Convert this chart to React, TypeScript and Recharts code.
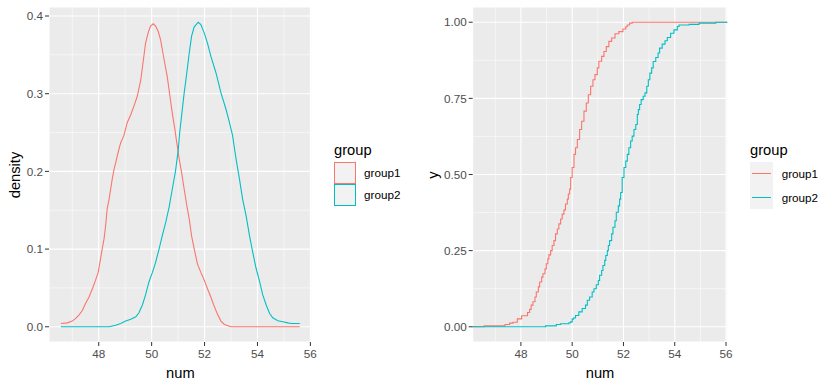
import { CartesianGrid, Line, LineChart, XAxis, YAxis } from "recharts";

const FONT = '"Liberation Sans", Arial, sans-serif';
const RED = "#F8766D";
const TEAL = "#00BFC4";

const groups = ["group1", "group2"];
const xTicks = [48, 50, 52, 54, 56];
const xMinor = [47, 49, 51, 53, 55];

// density curves
const dens1X = [46.57, 46.81, 47.0, 47.13, 47.25, 47.38, 47.5, 47.63, 47.76, 47.88, 47.98, 48.07, 48.13, 48.2, 48.26, 48.32, 48.39, 48.45, 48.51, 48.58, 48.64, 48.73, 48.83, 48.95, 49.08, 49.21, 49.33, 49.46, 49.59, 49.69, 49.77, 49.88, 49.96, 50.06, 50.15, 50.25, 50.34, 50.47, 50.59, 50.69, 50.78, 50.87, 50.95, 51.04, 51.13, 51.23, 51.33, 51.42, 51.51, 51.61, 51.73, 51.86, 51.99, 52.11, 52.24, 52.37, 52.49, 52.62, 52.75, 53.0, 55.6];
const dens1Y = [0.0043, 0.005, 0.0073, 0.0107, 0.015, 0.021, 0.03, 0.038, 0.049, 0.06, 0.07, 0.088, 0.1, 0.113, 0.13, 0.152, 0.164, 0.177, 0.19, 0.203, 0.211, 0.224, 0.237, 0.246, 0.263, 0.273, 0.284, 0.297, 0.318, 0.344, 0.365, 0.38, 0.387, 0.39, 0.387, 0.38, 0.369, 0.344, 0.322, 0.297, 0.275, 0.256, 0.237, 0.216, 0.199, 0.177, 0.156, 0.139, 0.117, 0.1, 0.081, 0.07, 0.06, 0.049, 0.038, 0.026, 0.016, 0.0073, 0.003, 0, 0];
const dens2X = [46.57, 48.39, 48.64, 48.83, 49.02, 49.21, 49.4, 49.52, 49.65, 49.77, 49.9, 50.03, 50.15, 50.28, 50.4, 50.53, 50.66, 50.78, 50.9, 51.0, 51.06, 51.13, 51.23, 51.33, 51.42, 51.51, 51.61, 51.76, 51.86, 51.99, 52.11, 52.24, 52.43, 52.62, 52.81, 52.94, 53.06, 53.19, 53.32, 53.44, 53.57, 53.7, 53.82, 53.95, 54.08, 54.2, 54.33, 54.46, 54.58, 54.77, 54.96, 55.15, 55.28, 55.6];
const dens2Y = [0, 0, 0.002, 0.0043, 0.0073, 0.0098, 0.0128, 0.018, 0.028, 0.041, 0.058, 0.07, 0.083, 0.1, 0.117, 0.134, 0.154, 0.177, 0.2, 0.226, 0.25, 0.271, 0.301, 0.327, 0.352, 0.374, 0.386, 0.392, 0.389, 0.378, 0.365, 0.348, 0.327, 0.301, 0.28, 0.263, 0.246, 0.216, 0.19, 0.164, 0.143, 0.117, 0.096, 0.075, 0.058, 0.041, 0.028, 0.017, 0.0115, 0.0077, 0.0064, 0.005, 0.0043, 0.0043];

// ecdf steps (first/last points pad to the panel edges)
const ecdf1X = [46.0, 46.57, 47.38, 47.56, 47.69, 47.86, 48.03, 48.26, 48.34, 48.4, 48.47, 48.55, 48.6, 48.68, 48.73, 48.81, 48.86, 48.94, 48.99, 49.05, 49.09, 49.16, 49.22, 49.29, 49.35, 49.42, 49.48, 49.55, 49.61, 49.68, 49.74, 49.81, 49.85, 49.9, 49.94, 50.0, 50.07, 50.13, 50.2, 50.29, 50.37, 50.46, 50.55, 50.63, 50.72, 50.81, 50.89, 50.98, 51.04, 51.15, 51.24, 51.33, 51.43, 51.54, 51.67, 51.82, 51.98, 52.09, 52.15, 52.24, 52.34, 55.6, 56.2];
const ecdf1Y = [0, 0.003, 0.0075, 0.012, 0.015, 0.026, 0.036, 0.047, 0.057, 0.071, 0.082, 0.098, 0.114, 0.131, 0.147, 0.163, 0.174, 0.19, 0.207, 0.223, 0.236, 0.25, 0.267, 0.283, 0.305, 0.321, 0.338, 0.354, 0.37, 0.384, 0.403, 0.419, 0.436, 0.452, 0.49, 0.523, 0.566, 0.588, 0.615, 0.648, 0.675, 0.708, 0.735, 0.762, 0.79, 0.811, 0.828, 0.85, 0.872, 0.888, 0.904, 0.92, 0.937, 0.948, 0.962, 0.969, 0.978, 0.985, 0.991, 0.997, 1, 1, 1];
const ecdf2X = [46.0, 48.96, 49.38, 49.55, 49.87, 49.94, 50.0, 50.05, 50.13, 50.26, 50.39, 50.52, 50.59, 50.68, 50.78, 50.85, 50.94, 51.02, 51.07, 51.15, 51.2, 51.27, 51.31, 51.37, 51.41, 51.46, 51.54, 51.59, 51.67, 51.72, 51.8, 51.85, 51.89, 51.95, 52.02, 52.09, 52.15, 52.21, 52.28, 52.34, 52.41, 52.48, 52.54, 52.58, 52.63, 52.69, 52.77, 52.84, 52.91, 52.97, 53.03, 53.1, 53.16, 53.26, 53.35, 53.41, 53.51, 53.62, 53.71, 53.84, 53.97, 54.1, 54.17, 54.56, 54.95, 55.6, 56.2];
const ecdf2Y = [0, 0.003, 0.0075, 0.01, 0.013, 0.016, 0.025, 0.029, 0.037, 0.049, 0.06, 0.071, 0.087, 0.098, 0.114, 0.125, 0.138, 0.152, 0.169, 0.185, 0.201, 0.218, 0.234, 0.25, 0.267, 0.283, 0.305, 0.327, 0.348, 0.376, 0.397, 0.419, 0.441, 0.49, 0.523, 0.544, 0.566, 0.588, 0.61, 0.626, 0.648, 0.664, 0.697, 0.713, 0.73, 0.746, 0.757, 0.768, 0.79, 0.811, 0.833, 0.85, 0.871, 0.884, 0.899, 0.915, 0.928, 0.939, 0.95, 0.964, 0.975, 0.986, 0.991, 0.993, 0.997, 1, 1];

const toPoints = (xs: number[], ys: number[]) => xs.map((x, i) => ({ x, y: ys[i] }));

const tickStyle = { fill: "#4D4D4D", fontSize: 11.7, fontFamily: FONT };
const titleStyle = { position: "absolute" as const, fontFamily: FONT, fontSize: 14.7, color: "#000", whiteSpace: "nowrap" as const, lineHeight: 1 };

type Series = { name: string; color: string; data: { x: number; y: number }[] };

type PanelProps = {
  left: number;
  yAxisWidth: number;
  marginRight: number;
  yDomain: [number, number];
  yTicks: number[];
  yMinor: number[];
  yDigits: number;
  yTitle: string;
  step: boolean;
  series: Series[];
};

// legend drawn with fixed boxes so nothing can shrink
function LegendBlock({ step, series, left }: { step: boolean; series: Series[]; left: number }) {
  const keyW = step ? 22.7 : 22;
  const keyH = step ? 23.3 : 22;
  const keysTop = 162.3;
  const abs = { position: "absolute" as const };
  return (
    <div style={{ ...abs, left, top: 0, width: 90, height: 389, fontFamily: FONT }}>
      <div style={{ ...abs, left: 0, top: 142.6, fontSize: 14.7, lineHeight: 1, whiteSpace: "nowrap" }}>group</div>
      {step && <div style={{ ...abs, left: 0, top: keysTop, width: keyW, height: keyH * series.length, background: "#F2F2F2" }} />}
      {series.map((s, i) => {
        const top = keysTop + i * keyH;
        return (
          <div key={s.name}>
            {step ? (
              <div style={{ ...abs, left: 2, top: top + keyH / 2 - 0.55, width: keyW - 4, height: 1.1, background: s.color }} />
            ) : (
              <div style={{ ...abs, left: 0, top, width: keyW, height: keyH, boxSizing: "border-box", border: `1.4px solid ${s.color}`, background: "#F2F2F2" }} />
            )}
            <div style={{ ...abs, left: keyW + (step ? 9 : 8), top, height: keyH, lineHeight: `${keyH}px`, fontSize: 11.7, color: "#000", whiteSpace: "nowrap" }}>{s.name}</div>
          </div>
        );
      })}
    </div>
  );
}

function Panel({ left, yAxisWidth, marginRight, yDomain, yTicks, yMinor, yDigits, yTitle, step, series }: PanelProps) {
  const width = 320;
  const plotLeft = yAxisWidth;
  const plotRight = width - marginRight;
  return (
    <div style={{ position: "absolute", left, top: 0, width: 413, height: 389 }}>
      <LineChart width={width} height={389} margin={{ top: 7, right: marginRight, bottom: 0, left: 0 }}>
        <CartesianGrid fill="#EBEBEB" stroke="#FFFFFF" strokeWidth={0.55} verticalValues={xMinor} horizontalValues={yMinor} />
        <CartesianGrid stroke="#FFFFFF" strokeWidth={1.1} />
        <XAxis
          type="number"
          dataKey="x"
          domain={[46.12, 56.05]}
          ticks={xTicks}
          interval={0}
          allowDataOverflow
          axisLine={false}
          tickLine={{ stroke: "#333333" }}
          tickSize={4}
          tickMargin={4}
          height={47}
          tick={tickStyle}
        />
        <YAxis
          type="number"
          domain={yDomain}
          ticks={yTicks}
          interval={0}
          allowDataOverflow
          axisLine={false}
          tickLine={{ stroke: "#333333" }}
          tickSize={4}
          tickMargin={2}
          width={yAxisWidth}
          tick={tickStyle}
          tickFormatter={(v: number) => v.toFixed(yDigits)}
        />
        {series.map((s) => (
          <Line
            key={s.name}
            data={s.data}
            dataKey="y"
            name={s.name}
            type={step ? "stepAfter" : "linear"}
            stroke={s.color}
            strokeWidth={1.1}
            dot={false}
            activeDot={false}
            isAnimationActive={false}
          />
        ))}
      </LineChart>
      <div style={{ ...titleStyle, left: (plotLeft + plotRight) / 2, top: 373, transform: "translate(-50%, -50%)" }}>num</div>
      <div style={{ ...titleStyle, left: step ? 13 : 15, top: 175, transform: "translate(-50%, -50%) rotate(-90deg)" }}>{yTitle}</div>
      <LegendBlock step={step} series={series} left={step ? 330 : 334} />
    </div>
  );
}

export default function App() {
  const densSeries: Series[] = [
    { name: groups[0], color: RED, data: toPoints(dens1X, dens1Y) },
    { name: groups[1], color: TEAL, data: toPoints(dens2X, dens2Y) },
  ];
  const ecdfSeries: Series[] = [
    { name: groups[0], color: RED, data: toPoints(ecdf1X, ecdf1Y) },
    { name: groups[1], color: TEAL, data: toPoints(ecdf2X, ecdf2Y) },
  ];
  return (
    <div style={{ position: "absolute", left: 0, top: 0, width: 833, height: 389, background: "#fff", overflow: "hidden" }}>
      <Panel
        left={0}
        yAxisWidth={49}
        marginRight={8.3}
        yDomain={[-0.0196, 0.4116]}
        yTicks={[0, 0.1, 0.2, 0.3, 0.4]}
        yMinor={[0.05, 0.15, 0.25, 0.35]}
        yDigits={1}
        yTitle="density"
        step={false}
        series={densSeries}
      />
      <Panel
        left={420}
        yAxisWidth={52.7}
        marginRight={12.7}
        yDomain={[-0.05, 1.05]}
        yTicks={[0, 0.25, 0.5, 0.75, 1]}
        yMinor={[0.125, 0.375, 0.625, 0.875]}
        yDigits={2}
        yTitle="y"
        step={true}
        series={ecdfSeries}
      />
    </div>
  );
}
